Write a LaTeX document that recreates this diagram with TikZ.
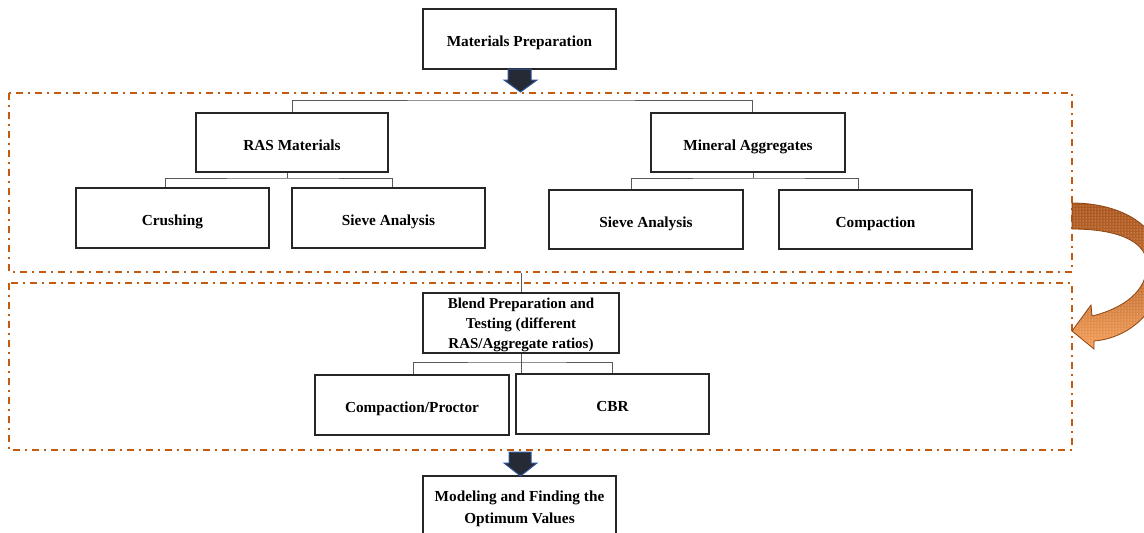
\documentclass[tikz,border=0pt]{standalone}
\usepackage{fontspec}
\setmainfont{Liberation Serif}
\usetikzlibrary{patterns}
\definecolor{frameor}{RGB}{197,90,17}
\definecolor{arrdark}{RGB}{38,42,52}
\definecolor{arrblue}{RGB}{47,85,151}
\definecolor{curvdark}{RGB}{170,86,30}
\definecolor{curvlight}{RGB}{245,160,90}
\definecolor{curvline}{RGB}{140,70,20}
\tikzset{
  box/.style={draw=black!85, line width=1.6pt, fill=white, inner sep=0pt, align=center,
    font=\fontsize{15.3}{21}\selectfont\bfseries},
  one/.style={text height=15pt, text depth=0pt},
  frame/.style={draw=frameor, line width=2pt, dash pattern=on 7pt off 5pt on 2pt off 5pt},
  conn/.style={draw=black!65, line width=1pt},
  blockarrow/.style={fill=arrdark, draw=arrblue, line width=1pt},
}
\begin{document}
\begin{tikzpicture}[x=1pt,y=-1pt]
\useasboundingbox (0,0) rectangle (1144,533);
\fill[white] (0,0) rectangle (1144,533);

% dashed frames
\draw[frame] (9,93) rectangle (1072,272);
\draw[frame] (9,283) rectangle (1072,450);

% boxes
\node[box, one, minimum width=193pt, minimum height=60pt] (mp) at (519.5,39) {Materials Preparation};
\node[box, one, minimum width=192pt, minimum height=59pt] (ras) at (292,142.5) {RAS Materials};
\node[box, one, minimum width=194pt, minimum height=59pt] (min) at (748,142.5) {Mineral Aggregates};
\node[box, one, minimum width=193pt, minimum height=60pt] (crush) at (172.5,218) {Crushing};
\node[box, one, minimum width=193pt, minimum height=60pt] (sieveL) at (388.5,218) {Sieve Analysis};
\node[box, one, minimum width=194pt, minimum height=59pt] (sieveR) at (646,219.5) {Sieve Analysis};
\node[box, one, minimum width=193pt, minimum height=59pt] (comp) at (875.5,219.5) {Compaction};
\node[box, minimum width=196pt, minimum height=60pt, text depth=-3pt, font=\fontsize{15}{20}\selectfont\bfseries] (blend) at (521,323) {Blend Preparation and\\Testing (different\\RAS/Aggregate ratios)};
\node[box, one, minimum width=194pt, minimum height=60pt] (cp) at (412,405) {Compaction/Proctor};
\node[box, one, minimum width=193pt, minimum height=60pt] (cbr) at (612.5,404) {CBR};
\node[box, minimum width=193pt, minimum height=66pt, font=\fontsize{15.3}{22}\selectfont\bfseries] (model) at (519.5,509) {Modeling and Finding the\\Optimum Values};

% bracket coordinates
\coordinate (tb) at (520,100);
\coordinate (rb) at (287,178);
\coordinate (mb) at (753,178);
\coordinate (bb) at (521,362);
\coordinate (ub) at (521,273);

% top bracket
\draw[conn] (ras.north) |- (tb) -| ([xshift=4pt]min.north);
% RAS bracket
\draw[conn] ([xshift=-5pt]ras.south) -- (rb);
\draw[conn] ([xshift=-7.5pt]crush.north) |- (rb) -| ([xshift=3.5pt]sieveL.north);
% Mineral bracket
\draw[conn] ([xshift=5pt]min.south) -- (mb);
\draw[conn] ([xshift=-15pt]sieveR.north) |- (mb) -| ([xshift=-17.5pt]comp.north);
% blend connectors
\draw[conn] (ub) -- (blend.north);
\draw[conn] (blend.south) -- (blend.south |- cbr.north);
\draw[conn] ([xshift=1pt]cp.north) |- (bb) -| (cbr.north);

% block arrows
\draw[blockarrow] (508,69) -- (531,69) -- (531,80) -- (537,80) -- (520.5,92) -- (504,80) -- (508,80) -- cycle;
\draw[blockarrow] (509,452) -- (531,452) -- (531,463) -- (537,463) -- (520.5,476) -- (504,463) -- (509,463) -- cycle;

% curved arrow
\def\curvpath{(1072,203) .. controls (1120,203) and (1162,225) .. (1162,268)
  .. controls (1162,310) and (1130,338) .. (1094,341)
  -- (1094,349) -- (1072,331) -- (1091,305) -- (1092,316)
  .. controls (1125,308) and (1147,290) .. (1147,265)
  .. controls (1147,240) and (1115,229) .. (1072,229) -- cycle}
\shade[top color=curvdark, bottom color=curvlight, middle color=curvdark!70!curvlight] \curvpath;
\fill[pattern=dots, pattern color=white!70!curvlight] \curvpath;
\draw[curvline, line width=0.8pt] \curvpath;
\end{tikzpicture}
\end{document}
